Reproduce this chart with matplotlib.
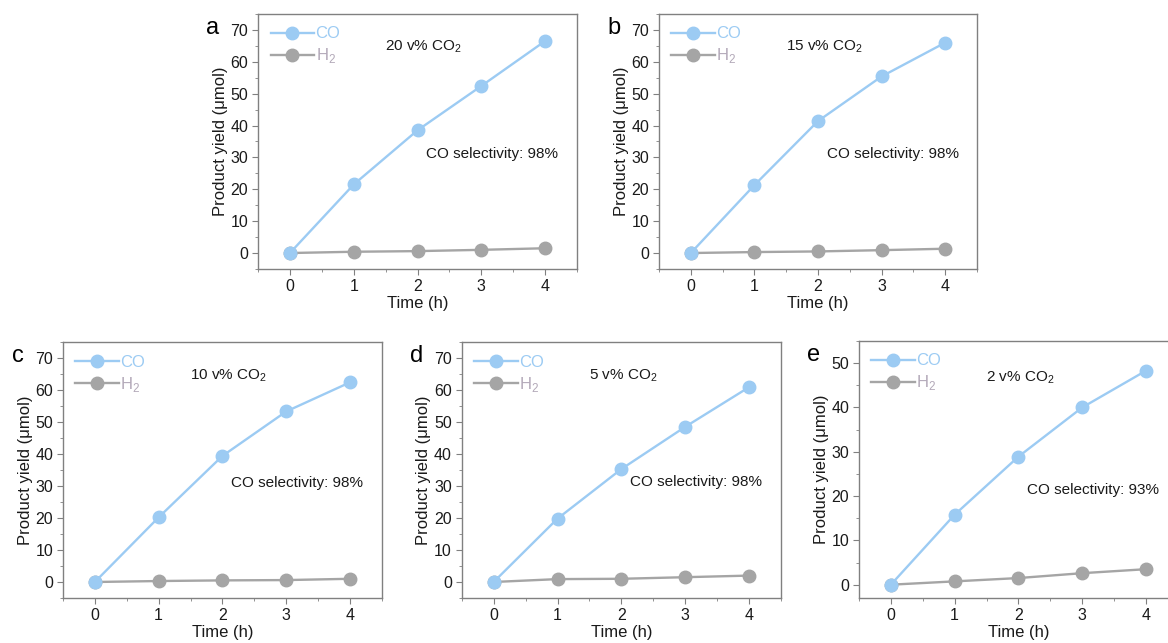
import matplotlib
matplotlib.use("Agg")
import matplotlib.pyplot as plt
from matplotlib.ticker import MultipleLocator

plt.rcParams['font.family'] = ['Liberation Sans', 'DejaVu Sans']
plt.rcParams['font.size'] = 11
plt.rcParams['mathtext.fontset'] = 'custom'
plt.rcParams['mathtext.rm'] = 'Liberation Sans'

# datos
tiempo = [0, 1, 2, 3, 4]
letras = ['a', 'b', 'c', 'd', 'e']
etiquetas = ['20 v% CO$_2$', '15 v% CO$_2$', '10 v% CO$_2$', '5 v% CO$_2$', '2 v% CO$_2$']
selectividad = ['CO selectivity: 98%', 'CO selectivity: 98%', 'CO selectivity: 98%',
                'CO selectivity: 98%', 'CO selectivity: 93%']

CO_a = [0, 21.5, 38.5, 52.4, 66.5]
CO_b = [0, 21.3, 41.4, 55.4, 66.0]
CO_c = [0, 20.2, 39.4, 53.3, 62.4]
CO_d = [0, 19.8, 35.3, 48.5, 60.9]
CO_e = [0, 15.8, 28.9, 40.0, 48.3]

H2_a = [0, 0.4, 0.6, 1.0, 1.5]
H2_b = [0, 0.3, 0.5, 0.9, 1.35]
H2_c = [0, 0.3, 0.5, 0.6, 1.0]
H2_d = [0, 0.9, 1.0, 1.5, 2.0]
H2_e = [0, 0.75, 1.5, 2.6, 3.5]

datosCO = [CO_a, CO_b, CO_c, CO_d, CO_e]
datosH2 = [H2_a, H2_b, H2_c, H2_d, H2_e]

# posiciones de los ejes en la figura (fraccion)
posiciones = [
    [0.2209, 0.5817, 0.2731, 0.3966],
    [0.5642, 0.5817, 0.2723, 0.3966],
    [0.0539, 0.0700, 0.2731, 0.3981],
    [0.3953, 0.0700, 0.2734, 0.3981],
    [0.7354, 0.0700, 0.2731, 0.3997],
]
limitesY = [(-5, 75), (-5, 75), (-5, 75), (-5, 75), (-3, 55)]
posEtiqueta = [64.7, 64.7, 64.5, 64.5, 46.7]
posSelect = [31, 31, 31, 31.2, 21.4]

colorCO = '#9ccbf3'
colorH2 = '#a5a5a5'
colorEje = '#808080'
colorTexto = '#1a1a1a'

fig = plt.figure(figsize=(11.68, 6.43), dpi=100)

for i in range(5):
    ax = fig.add_axes(posiciones[i])
    ax.plot(tiempo, datosCO[i], '-o', color=colorCO, lw=1.7, ms=9, label='CO', zorder=3)
    ax.plot(tiempo, datosH2[i], '-o', color=colorH2, lw=1.7, ms=9, label='H$_2$', zorder=2)
    ax.set_xlim(-0.5, 4.5)
    ax.set_ylim(limitesY[i])
    ax.xaxis.set_major_locator(MultipleLocator(1))
    ax.xaxis.set_minor_locator(MultipleLocator(0.5))
    ax.yaxis.set_major_locator(MultipleLocator(10))
    ax.yaxis.set_minor_locator(MultipleLocator(5))
    for s in ax.spines.values():
        s.set_color(colorEje)
        s.set_linewidth(1)
    ax.tick_params(which='both', direction='out', color=colorEje, labelcolor=colorTexto, labelsize=11.5)
    ax.tick_params(which='major', length=4, pad=3)
    ax.tick_params(which='minor', length=2)
    ax.set_xlabel('Time (h)', fontsize=12, labelpad=1.5, color=colorTexto)
    ax.set_ylabel('Product yield (μmol)', fontsize=12, labelpad=2, color=colorTexto)

    leg = ax.legend(loc='upper left', frameon=False, numpoints=1, handlelength=2.6,
                    handletextpad=0.1, borderaxespad=0.35, labelspacing=0.3, fontsize=12)
    leg.get_texts()[0].set_color(colorCO)
    leg.get_texts()[1].set_color('#b3a9b9')

    ax.text(1.49, posEtiqueta[i], etiquetas[i], va='center', ha='left', fontsize=11, color=colorTexto)
    ax.text(2.14, posSelect[i], selectividad[i], va='center', ha='left', fontsize=11, color=colorTexto)

    ax.text(-0.142, 0.945, letras[i], transform=ax.transAxes, fontsize=17,
            ha='center', va='center', color='black')

plt.savefig('out.png', dpi=100)
